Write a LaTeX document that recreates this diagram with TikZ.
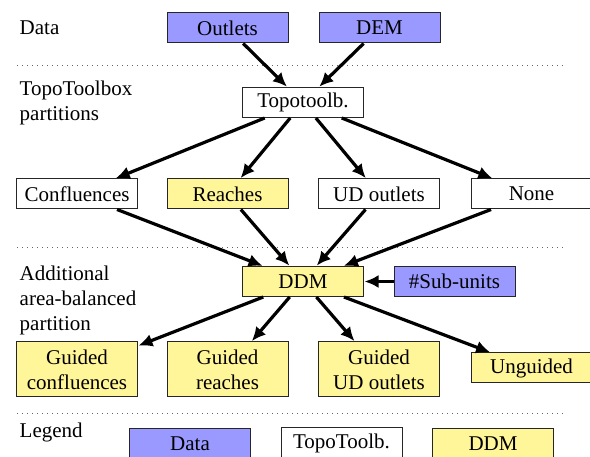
\documentclass[tikz,border=0pt]{standalone}
\usepackage{fontspec}
\setmainfont{LiberationSerif}[Extension=.ttf, UprightFont=*-Regular, BoldFont=*-Bold, ItalicFont=*-Italic]
\usetikzlibrary{arrows.meta}
\definecolor{datablue}{RGB}{153,153,255}
\definecolor{ddmyellow}{RGB}{255,245,153}
\begin{document}
\begin{tikzpicture}[x=1pt,y=-1pt,
  every node/.style={font=\fontsize{21}{25}\selectfont},
  box/.style={draw=black!85, line width=1pt, minimum width=121pt, minimum height=30pt, inner xsep=4pt, inner ysep=3pt, align=center},
  databox/.style={box, fill=datablue},
  topobox/.style={box, fill=white},
  ddmbox/.style={box, fill=ddmyellow},
  twoline/.style={minimum height=55pt},
  lbl/.style={anchor=west, inner sep=0pt, align=left},
  sep/.style={draw=black!60, line width=0.8pt, dash pattern=on 0.8pt off 4.2pt},
  arr/.style={draw=black, line width=3.2pt, -{Latex[length=14pt,width=13pt]}, shorten >=0.5pt}
]
\useasboundingbox (0,0) rectangle (590,457);
% separators
\coordinate (s1a) at (17,65.5); \coordinate (s1b) at (566,65.5);
\coordinate (s2a) at (17,247.5); \coordinate (s2b) at (566,247.5);
\coordinate (s3a) at (17,413.5); \coordinate (s3b) at (566,413.5);
\draw[sep] (s1a) -- (s1b);
\draw[sep] (s2a) -- (s2b);
\draw[sep] (s3a) -- (s3b);
% labels
\node[lbl] (ldata) at (19.5,28) {Data};
\node[lbl] (ltopo) at (19.5,102.5) {TopoToolbox\\partitions};
\node[lbl, anchor=north west] (ladd) at (19.5,265.7) {Additional\\area-balanced\\partition};
\node[lbl, anchor=base west] (lleg) at (19.5,438) {Legend};
% data row
\node[databox] (outlets) at (227.5,28) {Outlets};
\node[databox] (dem) at (379.5,28) {DEM};
% topotoolbox
\node[topobox] (topo) at (303,102.5) {Topotoolb.};
% partitions
\node[topobox] (conf) at (77,194) {Confluences};
\node[ddmbox] (reach) at (227.5,194) {Reaches};
\node[topobox] (ud) at (379,194) {UD outlets};
\node[topobox] (none) at (531.5,194) {None};
% DDM
\node[ddmbox] (ddm) at (303,281.5) {DDM};
\node[databox] (sub) at (454.5,281.5) {\#Sub-units};
% guided
\node[ddmbox, twoline] (gconf) at (77,369.5) {Guided\\confluences};
\node[ddmbox, twoline] (greach) at (227.5,369.5) {Guided\\reaches};
\node[ddmbox, twoline] (gud) at (379,369.5) {Guided\\UD outlets};
\node[ddmbox] (ung) at (531.5,368) {Unguided};
% legend
\node[databox] (legdata) at (190,444) {Data};
\node[topobox] (legtopo) at (341.5,443) {TopoToolb.};
\node[ddmbox] (legddm) at (493,444) {DDM};
% arrows
\draw[arr] (outlets) -- (topo);
\draw[arr] (dem) -- (topo);
\draw[arr] (topo) -- (conf);
\draw[arr] (topo) -- (reach);
\draw[arr] (topo) -- (ud);
\draw[arr] (topo) -- (none);
\draw[arr] (conf) -- (ddm);
\draw[arr] (reach) -- (ddm);
\draw[arr] (ud) -- (ddm);
\draw[arr] (none) -- (ddm);
\draw[arr] (sub) -- (ddm);
\draw[arr] (ddm) -- (gconf);
\draw[arr] (ddm) -- (greach);
\draw[arr] (ddm) -- (gud);
\draw[arr] (ddm) -- (ung);
\end{tikzpicture}
\end{document}
